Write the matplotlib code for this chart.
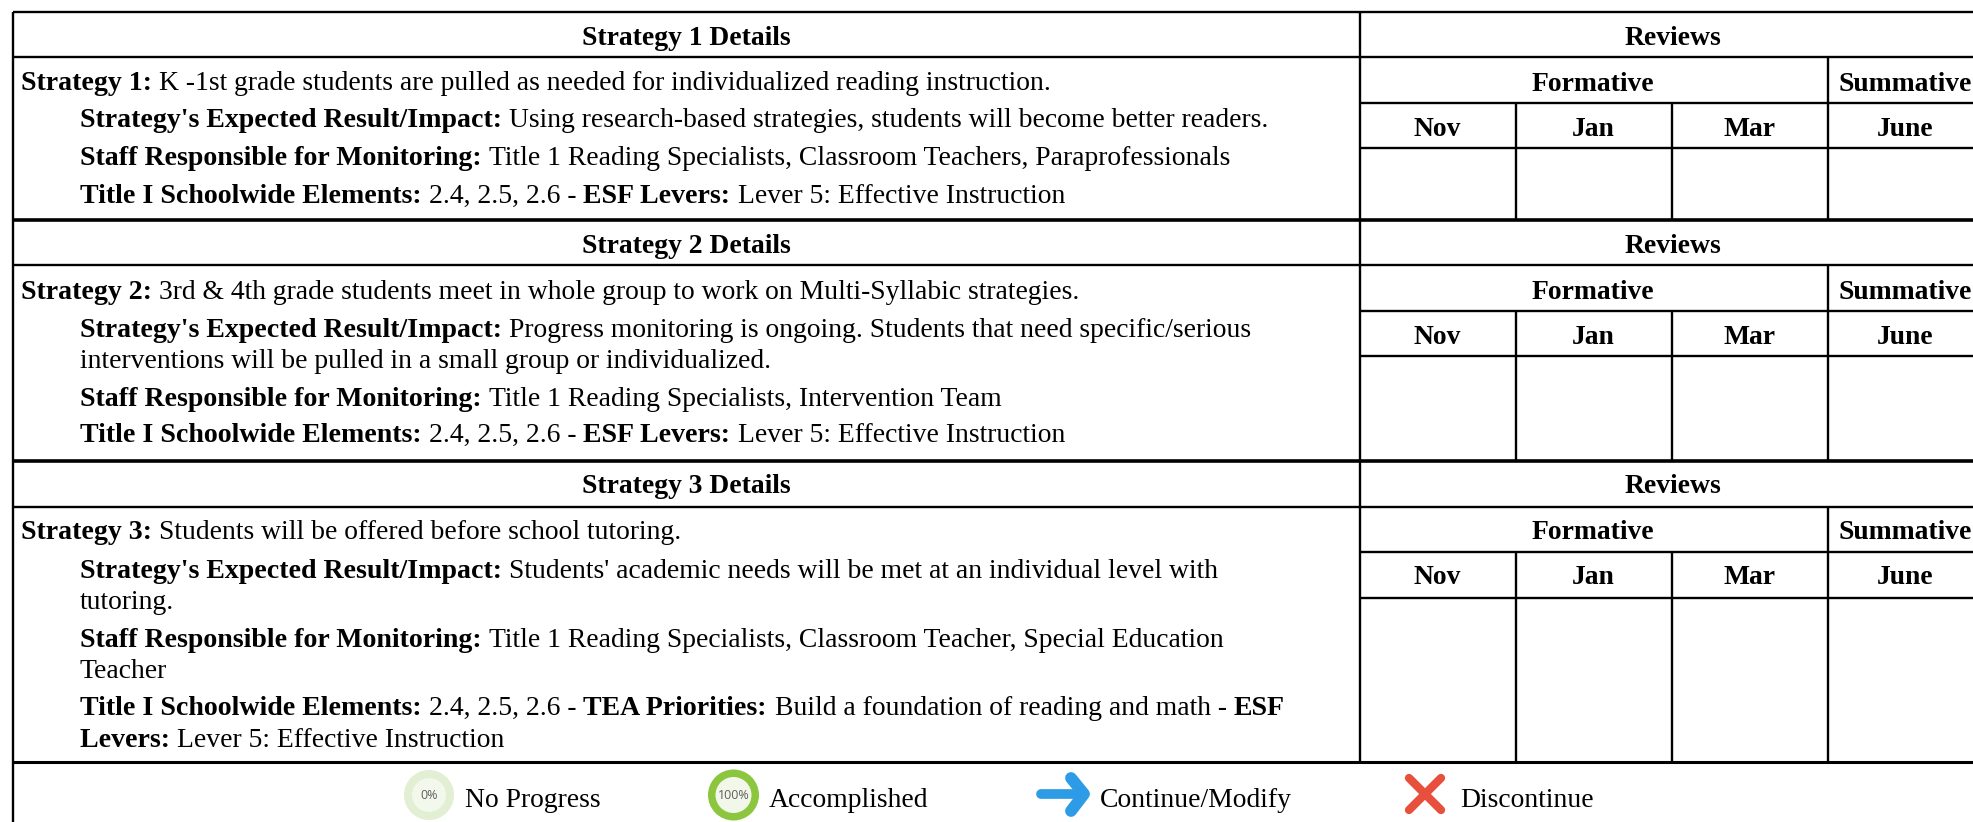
import matplotlib
matplotlib.use('Agg')
import matplotlib.pyplot as plt
from matplotlib.patches import Circle

plt.rcParams['font.family'] = ['Liberation Serif', 'DejaVu Serif']

# Contenido de la tabla
strategy_titles = ['Strategy 1 Details', 'Strategy 2 Details', 'Strategy 3 Details']
reviews_title = 'Reviews'
formative = 'Formative'
summative = 'Summative'
months = ['Nov', 'Jan', 'Mar', 'June']

# cada linea es una lista de (texto, negrita)
strategy_1 = [
    [('Strategy 1: ', True), ('K -1st grade students are pulled as needed for individualized reading instruction.', False)],
    [("Strategy's Expected Result/Impact: ", True), ('Using research-based strategies, students will become better readers.', False)],
    [('Staff Responsible for Monitoring: ', True), ('Title 1 Reading Specialists, Classroom Teachers, Paraprofessionals', False)],
    [('Title I Schoolwide Elements: ', True), ('2.4, 2.5, 2.6 - ', False), ('ESF Levers: ', True), ('Lever 5: Effective Instruction', False)],
]
strategy_2 = [
    [('Strategy 2: ', True), ('3rd & 4th grade students meet in whole group to work on Multi-Syllabic strategies.', False)],
    [("Strategy's Expected Result/Impact: ", True), ('Progress monitoring is ongoing. Students that need specific/serious', False)],
    [('interventions will be pulled in a small group or individualized.', False)],
    [('Staff Responsible for Monitoring: ', True), ('Title 1 Reading Specialists, Intervention Team', False)],
    [('Title I Schoolwide Elements: ', True), ('2.4, 2.5, 2.6 - ', False), ('ESF Levers: ', True), ('Lever 5: Effective Instruction', False)],
]
strategy_3 = [
    [('Strategy 3: ', True), ('Students will be offered before school tutoring.', False)],
    [("Strategy's Expected Result/Impact: ", True), ("Students' academic needs will be met at an individual level with", False)],
    [('tutoring.', False)],
    [('Staff Responsible for Monitoring: ', True), ('Title 1 Reading Specialists, Classroom Teacher, Special Education', False)],
    [('Teacher', False)],
    [('Title I Schoolwide Elements: ', True), ('2.4, 2.5, 2.6 - ', False), ('TEA Priorities: ', True), ('Build a foundation of reading and math - ', False), ('ESF', True)],
    [('Levers: ', True), ('Lever 5: Effective Instruction', False)],
]
legend_labels = ['No Progress', 'Accomplished', 'Continue/Modify', 'Discontinue']

# Geometria en pixeles
W, H = 1974, 822
left = 12.5
div = 1360
col_x = [1360, 1516, 1672, 1828, 1984]
block_tops = [12, 220, 461]
block_bottoms = [220, 461, 762]
row_h = 45.5
fs = 19.9
fs_bold = 20.05

line_ys = [
    [90.5, 127, 165, 203],
    [299, 337, 368, 406, 442],
    [539, 578, 609, 647, 678, 715, 747],
]
indent = [21, 80]
header_dy = [33, 33, 32]

fig = plt.figure(figsize=(W / 100, H / 100), dpi=100)
ax = fig.add_axes([0, 0, 1, 1])
ax.set_xlim(0, W)
ax.set_ylim(H, 0)
ax.axis('off')


def hline(x0, x1, y, lw=1.7):
    ax.plot([x0, x1], [y, y], color='black', lw=lw, solid_capstyle='butt')


def vline(x, y0, y1, lw=1.7):
    ax.plot([x, x], [y0, y1], color='black', lw=lw, solid_capstyle='butt')


def draw_runs(x, y, runs):
    r = fig.canvas.get_renderer()
    for txt, bold in runs:
        weight = 'bold' if bold else 'normal'
        size = fs_bold if bold else fs
        ax.text(x, y, txt, fontsize=size, fontweight=weight, va='baseline', ha='left', color='black')
        # los espacios finales cuentan para el ancho
        t2 = ax.text(0, 0, txt.replace(' ', '\u00a0'), fontsize=size, fontweight=weight, alpha=0)
        x += t2.get_window_extent(r).width
        t2.remove()


for i, block in enumerate([strategy_1, strategy_2, strategy_3]):
    top = block_tops[i]
    bottom = block_bottoms[i]
    dy = header_dy[i]
    hline(left, W, top, 2.6 if i else 1.7)
    hline(left, W, top + row_h)
    hline(div, W, top + 2 * row_h)
    hline(div, W, top + 3 * row_h)
    vline(div, top, bottom)
    vline(col_x[3], top + row_h, bottom)
    for x in col_x[1:3]:
        vline(x, top + 2 * row_h, bottom)

    ax.text((left + div) / 2, top + dy, strategy_titles[i], fontsize=fs, fontweight='bold',
            ha='center', va='baseline')
    ax.text((div + col_x[4]) / 2 + 1, top + dy, reviews_title, fontsize=fs, fontweight='bold',
            ha='center', va='baseline')
    ax.text((div + col_x[3]) / 2 - 1, top + dy + 46, formative, fontsize=fs, fontweight='bold',
            ha='center', va='baseline')
    ax.text((col_x[3] + col_x[4]) / 2 - 1, top + dy + 46, summative, fontsize=fs, fontweight='bold',
            ha='center', va='baseline')
    for m, x0, x1 in zip(months, col_x[:-1], col_x[1:]):
        ax.text((x0 + x1) / 2 - 1, top + dy + 91, m, fontsize=fs, fontweight='bold',
                ha='center', va='baseline')

    for j, runs in enumerate(block):
        draw_runs(indent[0] if j == 0 else indent[1], line_ys[i][j], runs)

hline(left, W, 762, 2.2)
vline(left, 12, H)

# Leyenda
legend_y = 795
legend_text_x = [465, 769, 1100, 1460]
for label, x in zip(legend_labels, legend_text_x):
    ax.text(x, 806.5, label, fontsize=fs, ha='left', va='baseline')

ax.add_patch(Circle((429, legend_y), 25, color='#e2efd2', lw=0))
ax.add_patch(Circle((429, legend_y), 17, color='#f2f8ec', lw=0))
ax.text(429, legend_y, '0%', fontsize=9, color='#5f5f5f', ha='center', va='center',
        family=['Open Sans'])
ax.add_patch(Circle((733.5, legend_y), 25.5, color='#8cc63f', lw=0))
ax.add_patch(Circle((733.5, legend_y), 18, color='#f1f8ea', lw=0))
ax.text(733.5, legend_y, '100%', fontsize=9, color='#5f5f5f', ha='center', va='center',
        family=['Open Sans'])

# flecha azul
blue = '#2d9be6'
ax.plot([1041, 1084], [794, 794], color=blue, lw=7, solid_capstyle='round')
ax.plot([1071, 1084, 1071], [778, 794, 811], color=blue, lw=8.5,
        solid_capstyle='round', solid_joinstyle='round')

# cruz roja
red = '#e8503e'
ax.plot([1409, 1441], [778, 810], color=red, lw=6, solid_capstyle='round')
ax.plot([1441, 1409], [778, 810], color=red, lw=6, solid_capstyle='round')

fig.savefig('out.png', dpi=100)
